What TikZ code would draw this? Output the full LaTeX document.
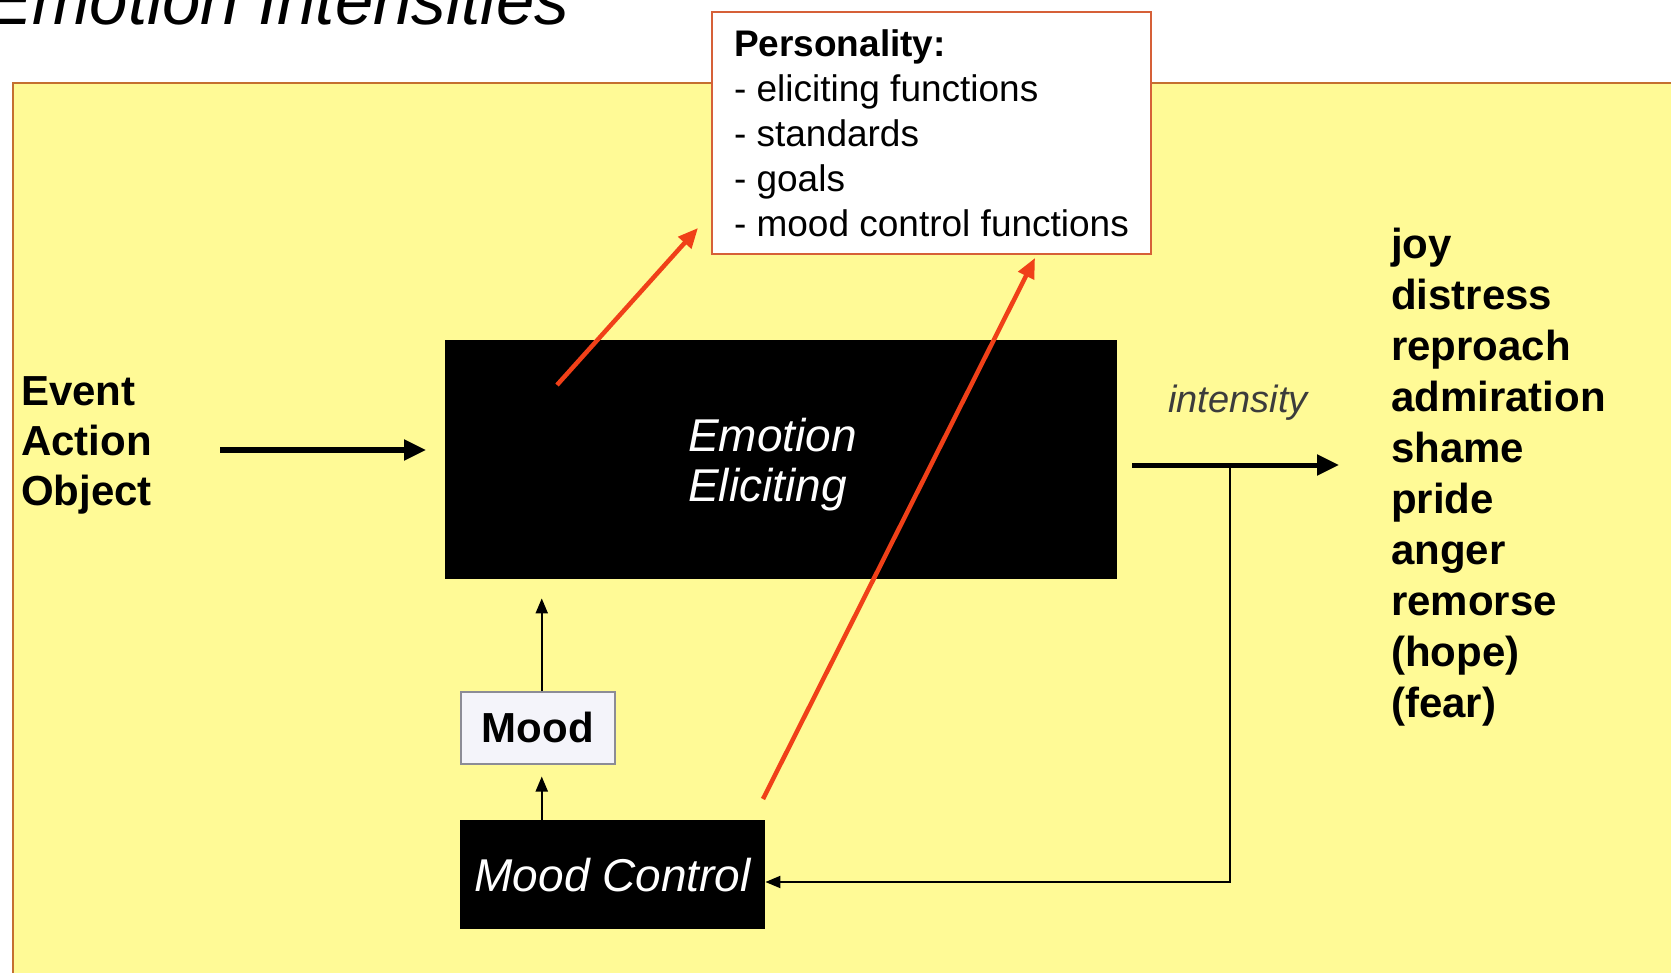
\documentclass[tikz,border=0pt]{standalone}
\usepackage{fontspec}
\setmainfont{Liberation Sans}
\usetikzlibrary{arrows.meta,calc}
\definecolor{panelfill}{RGB}{255,250,150}
\definecolor{panelline}{RGB}{196,112,48}
\definecolor{persline}{RGB}{214,96,56}
\definecolor{redarrow}{RGB}{240,64,24}
\definecolor{moodfill}{RGB}{244,244,250}
\definecolor{moodline}{RGB}{140,140,150}
\definecolor{intgray}{RGB}{60,60,60}
\tikzset{
  blackbox/.style={fill=black, text=white, inner sep=0pt},
  bigarrow/.style={line width=5pt, -{Triangle[length=22pt,width=20pt]}},
  thinarrow/.style={line width=2pt, -{Triangle[length=15pt,width=12pt]}},
  redarr/.style={draw=redarrow, line width=4.5pt, -{Triangle[length=20pt,width=17pt]}},
  plaintext/.style={inner sep=0pt, align=left},
}
\begin{document}
\begin{tikzpicture}[x=1pt,y=-1pt]
\useasboundingbox (0,0) rectangle (1671,973);
\clip (0,0) rectangle (1671,973);
\fill[white] (0,0) rectangle (1671,973);
\draw[panelline, line width=2.5pt, fill=panelfill] (13,83) rectangle (1700,1000);
\node[anchor=base west, inner sep=0pt, font=\fontsize{69pt}{80pt}\selectfont\itshape] (title) at (-14,25) {Emotion Intensities};

\node[anchor=north west, draw=persline, line width=2pt, fill=white, inner xsep=22pt, inner ysep=18pt, align=left, font=\fontsize{37pt}{44.8pt}\selectfont] (pers) at (711,11) {\textbf{Personality:}\\- eliciting functions\\- standards\\- goals\\- mood control functions};

\node[blackbox, anchor=north west, minimum width=672pt, minimum height=239pt, text width=186pt, align=left, font=\fontsize{46pt}{50pt}\selectfont\itshape] (elicit) at (445,340) {\rule{0pt}{43pt}Emotion\\Eliciting};

\node[plaintext, anchor=north west, font=\fontsize{42pt}{50pt}\selectfont\bfseries] (src) at (21,376) {Event\\Action\\Object};

\node[plaintext, anchor=north west, font=\fontsize{42pt}{51pt}\selectfont\bfseries] (emo) at (1391,228) {joy\\distress\\reproach\\admiration\\shame\\pride\\anger\\remorse\\(hope)\\(fear)};

\node[anchor=base west, inner sep=0pt, text=intgray, font=\fontsize{38pt}{44pt}\selectfont\itshape] (int) at (1168,413) {intensity};

\node[anchor=north west, draw=moodline, line width=1.5pt, fill=moodfill, minimum width=154pt, minimum height=72pt, inner sep=0pt, font=\fontsize{42pt}{50pt}\selectfont\bfseries] (mood) at (460,691) {Mood};

\node[blackbox, anchor=north west, minimum width=305pt, minimum height=109pt, font=\fontsize{46pt}{50pt}\selectfont\itshape] (mctl) at (460,820) {Mood Control};

\coordinate (inA) at (220,450);
\coordinate (outB) at (1339,465);
\coordinate (br) at (1230,465);
\coordinate (fb) at (1230,882);
\coordinate (r1s) at (557,385);
\coordinate (r1e) at (698,228);
\coordinate (r2s) at (763,799);
\coordinate (r2e) at (1035,258);

\draw[bigarrow, shorten >=19pt] (inA) -- (elicit.west |- inA);
\draw[bigarrow, shorten <=15pt] (elicit.east |- outB) -- (outB);
\draw[thinarrow] (br) -- (fb) -- (mctl.east |- fb);
\draw[thinarrow, shorten >=12pt] ($(mood.south |- mctl.north)+(4,0)$) -- ($(mood.south)+(4,0)$);
\draw[thinarrow, shorten >=19pt] ($(mood.north)+(4,0)$) -- ($(mood.north |- elicit.south)+(4,0)$);

\draw[redarr] (r1s) -- (r1e);
\draw[redarr] (r2s) -- (r2e);
\end{tikzpicture}
\end{document}
